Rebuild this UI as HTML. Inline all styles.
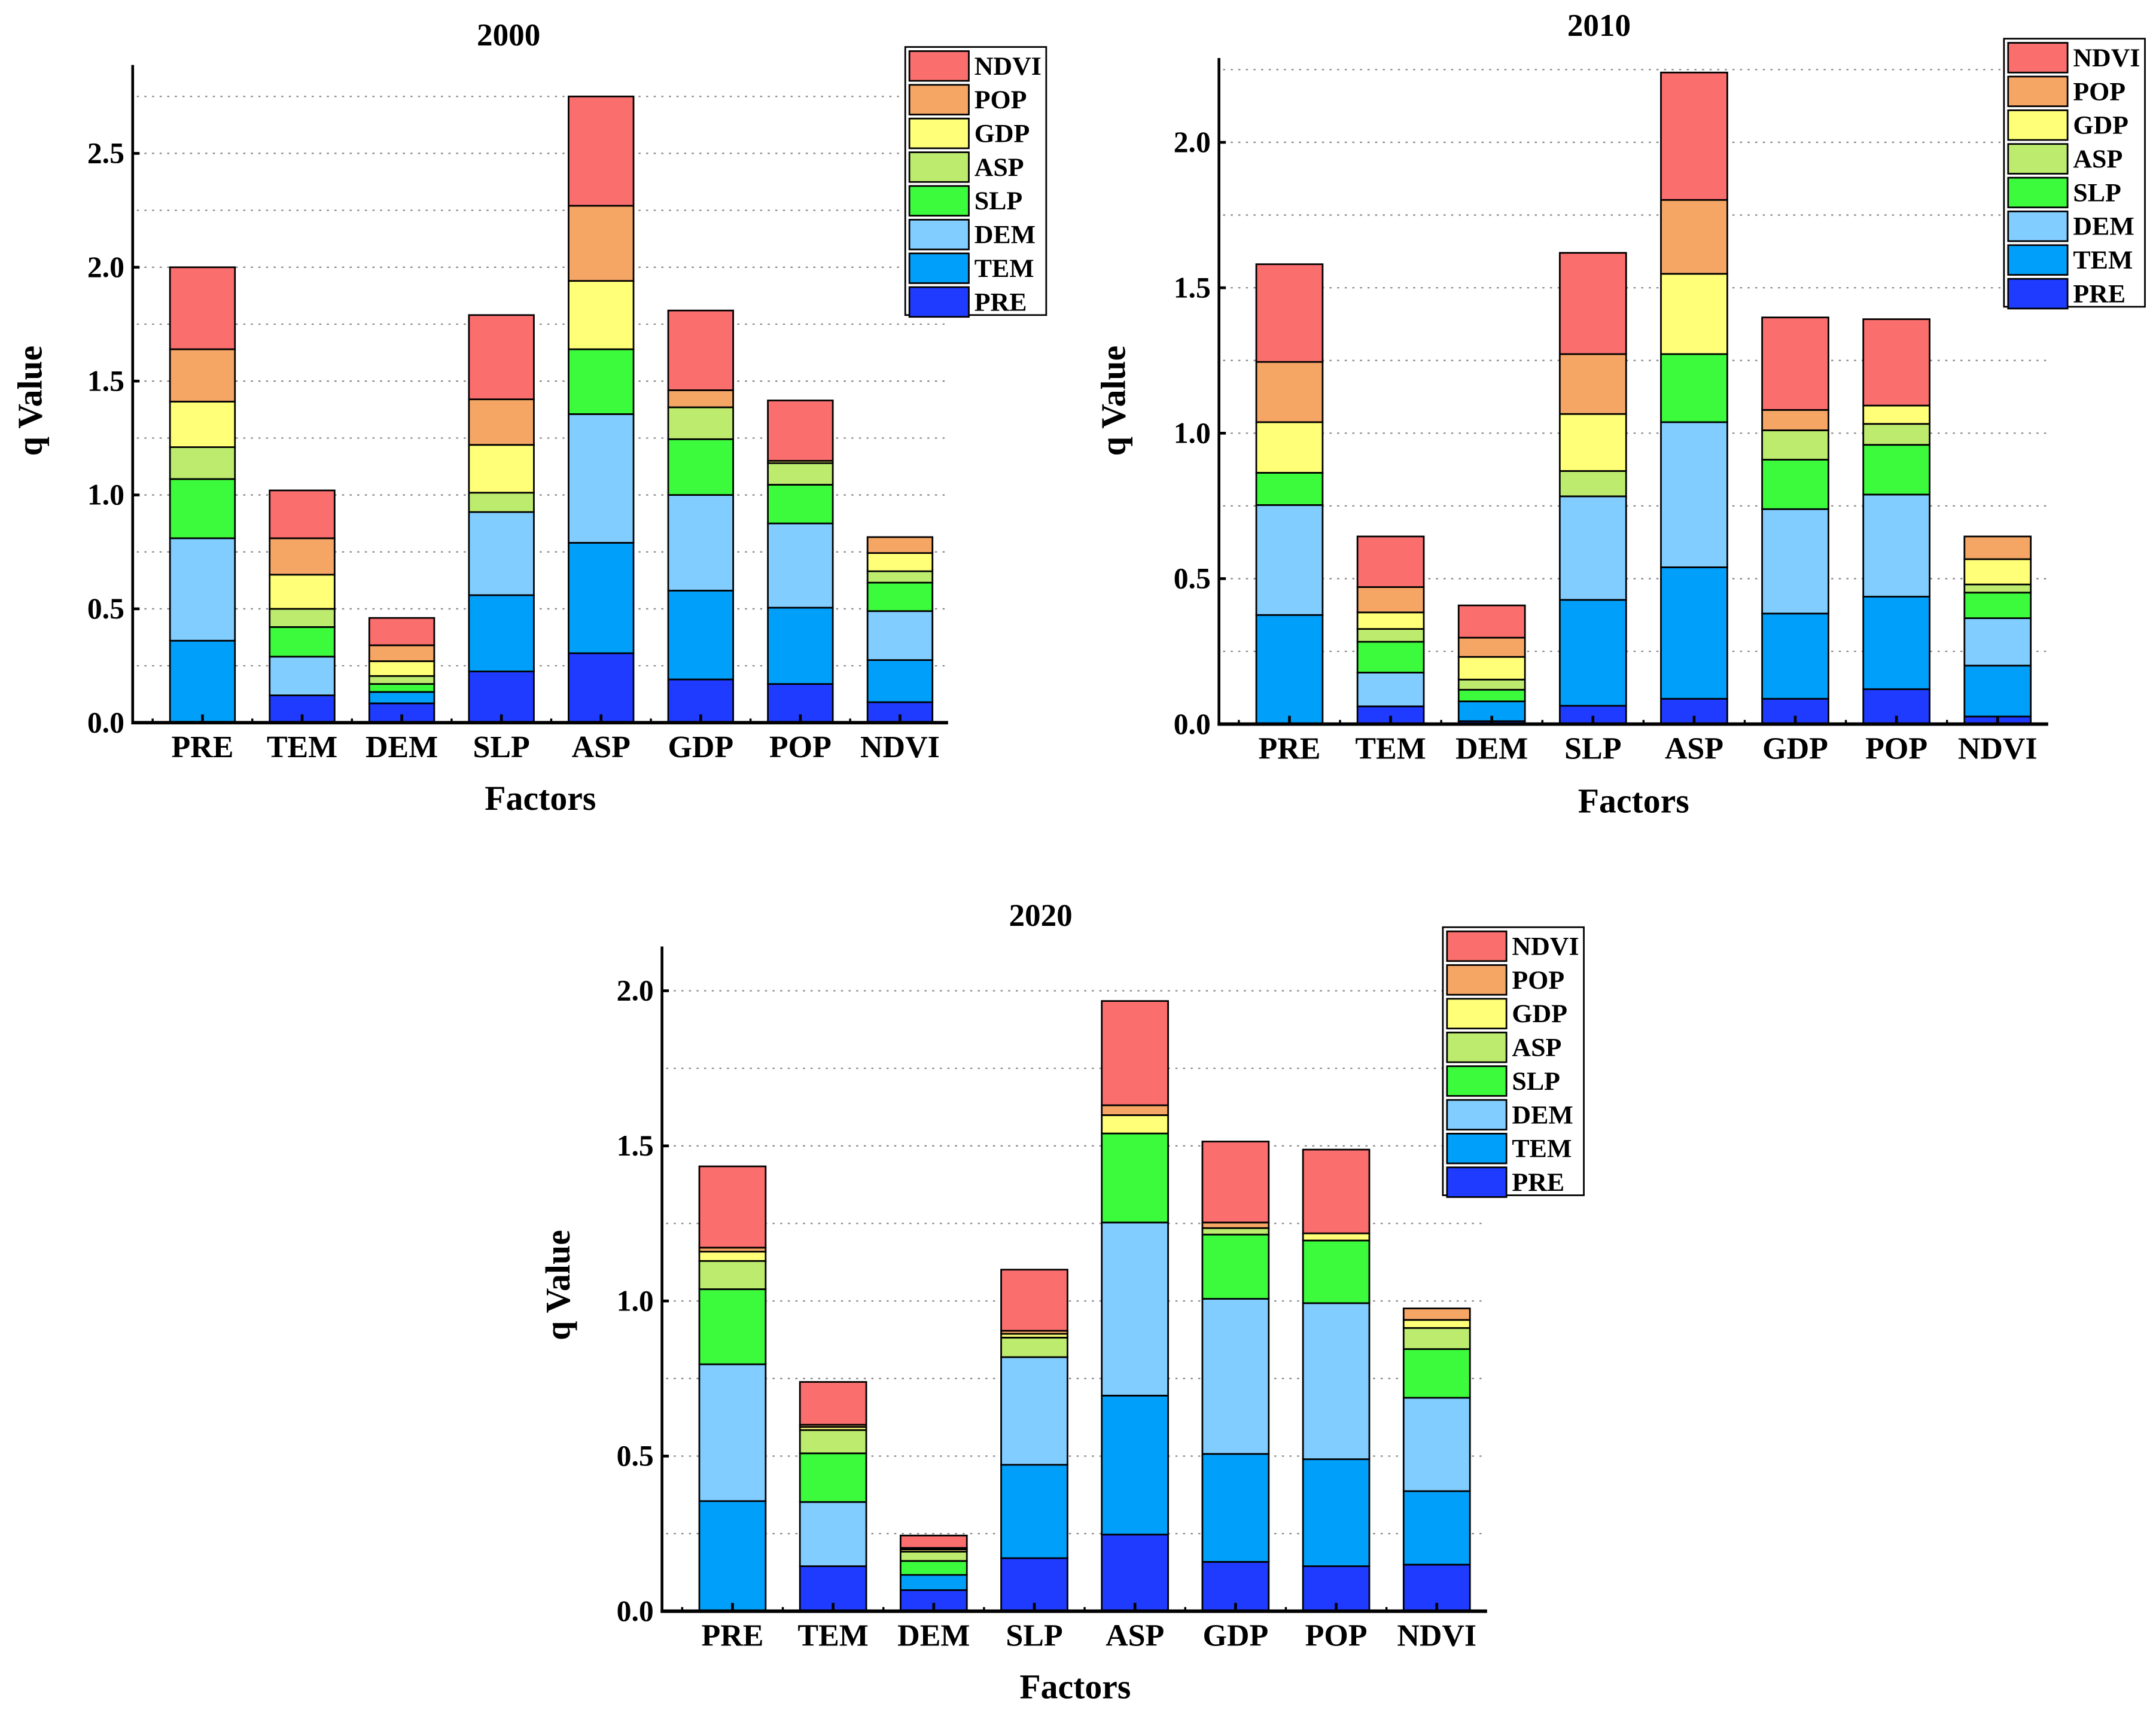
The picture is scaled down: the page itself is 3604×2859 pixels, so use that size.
<!DOCTYPE html>
<html><head><meta charset="utf-8"><style>
html,body{margin:0;padding:0;background:#fff;}
svg{display:block;}
text{font-family:"Liberation Serif",serif;font-weight:bold;fill:#000;}
</style></head><body>
<svg id="root" width="3604" height="2859" viewBox="0 0 1560 1237.5" preserveAspectRatio="none" xmlns="http://www.w3.org/2000/svg"></svg>
<script>
const categories = ["PRE","TEM","DEM","SLP","ASP","GDP","POP","NDVI"];
const seriesNames = ["PRE","TEM","DEM","SLP","ASP","GDP","POP","NDVI"];
const seriesColors = ["#1f3bff","#00a0fa","#82cdff","#3cfa3c","#bceb6e","#ffff78","#f5a665","#fa6e6e"];

// 2000 segment values per series (across categories)
const y2000_PRE  = [0, .12, .085, .225, .305, .19, .17, .09];
const y2000_TEM  = [.36, 0, .05, .335, .485, .39, .335, .185];
const y2000_DEM  = [.45, .17, 0, .365, .565, .42, .37, .215];
const y2000_SLP  = [.26, .13, .035, 0, .285, .245, .17, .125];
const y2000_ASP  = [.14, .08, .035, .085, 0, .14, .095, .05];
const y2000_GDP  = [.20, .15, .065, .21, .30, 0, .01, .08];
const y2000_POP  = [.23, .16, .07, .20, .33, .075, 0, .07];
const y2000_NDVI = [.36, .21, .12, .37, .48, .35, .265, 0];

// 2010
const y2010_PRE  = [0, .061, .01, .063, .087, .087, .12, .026];
const y2010_TEM  = [.375, 0, .068, .364, .452, .293, .318, .175];
const y2010_DEM  = [.378, .116, 0, .356, .499, .359, .351, .163];
const y2010_SLP  = [.111, .106, .04, 0, .234, .17, .171, .088];
const y2010_ASP  = [0, .044, .035, .087, 0, .101, .072, .028];
const y2010_GDP  = [.174, .057, .078, .196, .276, 0, .063, .087];
const y2010_POP  = [.207, .087, .066, .206, .254, .07, 0, .078];
const y2010_NDVI = [.336, .174, .111, .348, .438, .318, .297, 0];

// 2020
const y2020_PRE  = [0, .145, .068, .171, .247, .159, .145, .15];
const y2020_TEM  = [.355, 0, .049, .301, .448, .348, .345, .237];
const y2020_DEM  = [.441, .207, 0, .347, .558, .5, .503, .301];
const y2020_SLP  = [.242, .157, .045, 0, .287, .207, .202, .157];
const y2020_ASP  = [.091, .075, .03, .063, 0, .021, 0, .068];
const y2020_GDP  = [.03, .01, .007, .012, .059, 0, .023, .026];
const y2020_POP  = [.013, .007, .005, .01, .032, .018, 0, .037];
const y2020_NDVI = [.262, .138, .04, .197, .336, .261, .27, 0];

const ticks2000 = ["0.0","0.5","1.0","1.5","2.0","2.5"];
const ticks2010 = ["0.0","0.5","1.0","1.5","2.0"];
const ticks2020 = ["0.0","0.5","1.0","1.5","2.0"];

const NS = "http://www.w3.org/2000/svg";
const root = document.getElementById("root");
function mk(tag, attrs, parent){
  const e = document.createElementNS(NS, tag);
  for (const k in attrs) e.setAttribute(k, attrs[k]);
  (parent||root).appendChild(e);
  return e;
}

function drawChart(cfg){
  const g = mk("g", {});
  
  
  const yS = v => cfg.y0 - v * cfg.unit;
  const xS = i => cfg.x0c + i * cfg.step;
  for (let v = 0.25; v <= cfg.gridMax + 1e-6; v += 0.25) {
    const l = mk("line", {x1: cfg.ax + 3, x2: cfg.axEnd, y1: yS(v), y2: yS(v), stroke: "#888", "stroke-width": 1, "stroke-dasharray": "1.5,4"}, g);
    
    
  }
  categories.forEach((c, i) => {
    let acc = 0;
    cfg.series.forEach((arr, s) => {
      const v = arr[i];
      if (v > 0) {
        const r = mk("rect", {x: xS(i) - cfg.bw/2, y: yS(acc + v), width: cfg.bw, height: v * cfg.unit, fill: seriesColors[s], stroke: "#000", "stroke-width": 1.2}, g);
        
        
      }
      acc += v;
    });
    const t = mk("text", {x: xS(i), y: cfg.y0 + 25, "font-size": 22.5, "text-anchor": "middle"}, g);
    t.textContent = c;
    
    
    mk("line", {x1: xS(i), x2: xS(i), y1: cfg.y0, y2: cfg.y0 - 6, stroke: "#000", "stroke-width": 2}, g);
    mk("line", {x1: xS(i) - cfg.step/2, x2: xS(i) - cfg.step/2, y1: cfg.y0, y2: cfg.y0 - 3, stroke: "#000", "stroke-width": 1.5}, g);
  });
  const ya = mk("line", {x1: cfg.ax, x2: cfg.ax, y1: cfg.axTop, y2: cfg.y0 + 1, stroke: "#000", "stroke-width": 2}, g);
   
  const xa = mk("line", {x1: cfg.ax - 1, x2: cfg.axEnd, y1: cfg.y0, y2: cfg.y0, stroke: "#000", "stroke-width": 2.5}, g);
   
  cfg.ticks.forEach((lab) => {
    const v = parseFloat(lab);
    const t = mk("text", {x: cfg.ax - 6, y: yS(v) + 7, "font-size": 21.5, "text-anchor": "end"}, g);
    t.textContent = lab;
    
    
    mk("line", {x1: cfg.ax, x2: cfg.ax + 5, y1: yS(v), y2: yS(v), stroke: "#000", "stroke-width": 2}, g);
  });
  const tt = mk("text", {x: cfg.tx, y: cfg.ty + 8, "font-size": 23, "text-anchor": "middle"}, g);
  tt.textContent = cfg.title;
   
  const xt = mk("text", {x: cfg.fx, y: cfg.fy + 8, "font-size": 25, "text-anchor": "middle"}, g);
  xt.textContent = "Factors";
   
  const yt = mk("text", {x: 0, y: 0, "font-size": 25, "text-anchor": "middle", transform: `translate(${cfg.qx + 8},${cfg.qy}) rotate(-90)`}, g);
  yt.textContent = "q Value";
   
  const lg = mk("g", {}, g);
   
  mk("rect", {x: cfg.lx, y: cfg.ly, width: 102, height: 194, fill: "#fff", stroke: "#000", "stroke-width": 1.2}, lg);
  for (let k = 0; k < 8; k++) {
    const s = 7 - k;
    const yy = cfg.ly + 3 + k * 24.4;
    const sw = mk("rect", {x: cfg.lx + 3, y: yy, width: 43, height: 21.5, fill: seriesColors[s], stroke: "#000", "stroke-width": 1.2}, lg);
    
    
    const t = mk("text", {x: cfg.lx + 50, y: yy + 17, "font-size": 19}, lg);
    t.textContent = seriesNames[s];
    
    
  }
}

drawChart({title: "2000", series: [y2000_PRE,y2000_TEM,y2000_DEM,y2000_SLP,y2000_ASP,y2000_GDP,y2000_POP,y2000_NDVI],
  ticks: ticks2000, y0: 523, unit: 164.8, ax: 96, axEnd: 686, axTop: 47, x0c: 146.5, step: 72.1, bw: 47, gridMax: 2.75,
  tx: 368, ty: 25, fx: 391, fy: 578, qx: 22, qy: 290, lx: 655, ly: 34});
drawChart({title: "2010", series: [y2010_PRE,y2010_TEM,y2010_DEM,y2010_SLP,y2010_ASP,y2010_GDP,y2010_POP,y2010_NDVI],
  ticks: ticks2010, y0: 524, unit: 210.5, ax: 882, axEnd: 1482, axTop: 42, x0c: 933, step: 73.2, bw: 48, gridMax: 2.25,
  tx: 1157, ty: 18, fx: 1182, fy: 580, qx: 806, qy: 290, lx: 1450, ly: 28});
drawChart({title: "2020", series: [y2020_PRE,y2020_TEM,y2020_DEM,y2020_SLP,y2020_ASP,y2020_GDP,y2020_POP,y2020_NDVI],
  ticks: ticks2020, y0: 1166, unit: 224.5, ax: 479, axEnd: 1076, axTop: 685, x0c: 530, step: 72.8, bw: 48, gridMax: 2.0,
  tx: 753, ty: 662, fx: 778, fy: 1221, qx: 404, qy: 930, lx: 1044, ly: 671});
</script>
</body></html>
